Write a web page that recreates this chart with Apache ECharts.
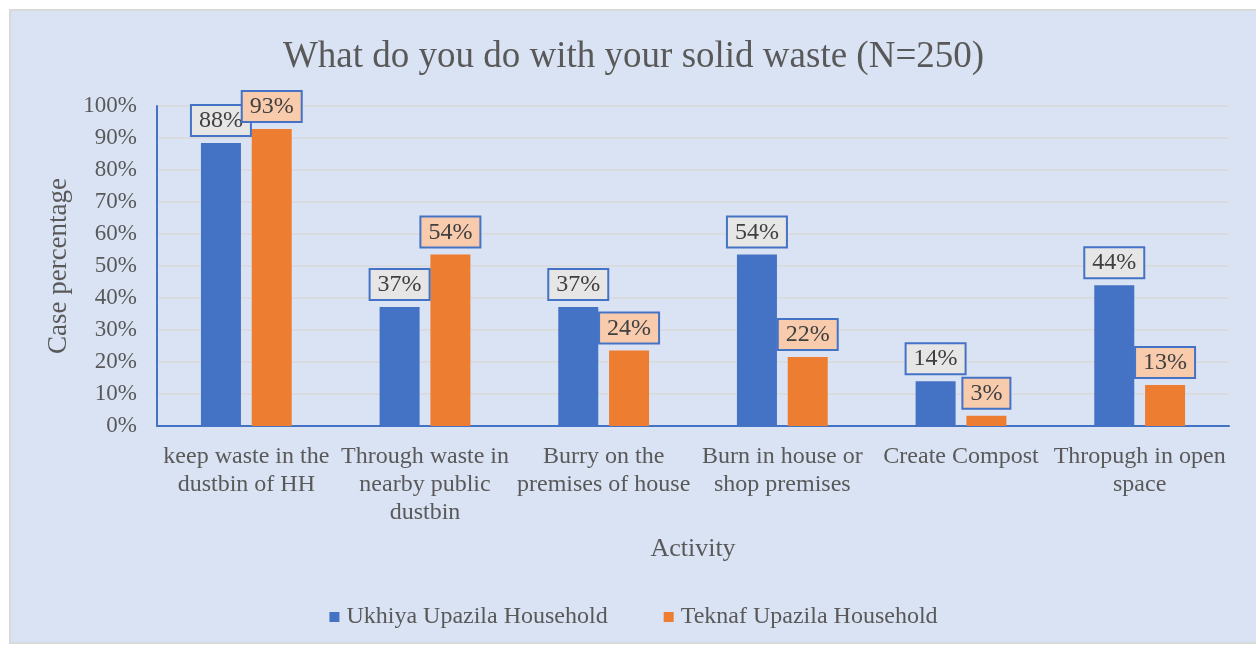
<!DOCTYPE html>
<html>
<head>
<meta charset="utf-8">
<script src="https://cdn.jsdelivr.net/npm/echarts@6/dist/echarts.min.js"></script>
<style>
html,body{margin:0;padding:0;background:#ffffff;width:1256px;height:646px;overflow:hidden;}
#wrap{position:absolute;left:9px;top:9px;width:1245px;height:631px;border:2px solid #D9D9D9;border-right:none;background:#DAE3F3;}
#chart{width:1245px;height:631px;}
</style>
</head>
<body>
<div id="wrap"><div id="chart"></div></div>
<script>
const categories = [
  "keep waste in the\ndustbin of HH",
  "Through waste in\nnearby public\ndustbin",
  "Burry on the\npremises of house",
  "Burn in house or\nshop premises",
  "Create Compost",
  "Thropugh in open\nspace"
];
const ukhiya = [88.4, 37.2, 37.2, 53.6, 14.0, 44.0];
const teknaf = [92.8, 53.6, 23.6, 21.6, 3.2, 12.8];
const seriesNames = ["Ukhiya Upazila Household", "Teknaf Upazila Household"];
const yTicks = [0, 10, 20, 30, 40, 50, 60, 70, 80, 90, 100];

const FONT = '"Liberation Serif", "Times New Roman", serif';
const chart = echarts.init(document.getElementById('chart'));

function labelFor(bg) {
  return {
    show: true,
    position: 'top',
    distance: 8,
    formatter: p => Math.round(p.value) + '%',
    fontFamily: FONT,
    fontSize: 24,
    color: '#404040',
    backgroundColor: bg,
    borderColor: '#4472C4',
    borderWidth: 2,
    padding: [3, 7, 2, 7],
    lineHeight: 24
  };
}

chart.setOption({
  backgroundColor: '#DAE3F3',
  textStyle: { fontFamily: FONT },
  title: {
    text: 'What do you do with your solid waste (N=250)',
    left: 'center',
    top: 23,
    textStyle: { fontFamily: FONT, fontSize: 37, fontWeight: 'normal', color: '#595959' }
  },
  legend: {
    data: seriesNames,
    left: 'center',
    top: 589,
    itemWidth: 10,
    itemHeight: 10,
    itemGap: 56,
    icon: 'rect',
    textStyle: { fontFamily: FONT, fontSize: 24, color: '#595959', padding: [0, 0, 0, 2] }
  },
  grid: { left: 146, top: 95, width: 1072, height: 320, containLabel: false },
  xAxis: {
    type: 'category',
    data: categories,
    name: 'Activity',
    nameLocation: 'middle',
    nameGap: 110,
    nameTextStyle: { fontFamily: FONT, fontSize: 26, color: '#595959', verticalAlign: 'top' },
    axisLine: { lineStyle: { color: '#4472C4', width: 2 } },
    axisTick: { show: false },
    axisLabel: { interval: 0, margin: 17, fontFamily: FONT, fontSize: 24, color: '#595959', lineHeight: 28 }
  },
  yAxis: {
    type: 'value',
    min: 0,
    max: 100,
    interval: 10,
    name: 'Case percentage',
    nameLocation: 'middle',
    nameGap: 82,
    nameTextStyle: { fontFamily: FONT, fontSize: 27, color: '#595959' },
    axisLine: { show: true, lineStyle: { color: '#4472C4', width: 2 } },
    axisTick: { show: false },
    splitLine: { lineStyle: { color: '#D9D9D9', width: 1.5 } },
    axisLabel: {
      margin: 20,
      fontFamily: FONT,
      fontSize: 23,
      color: '#595959',
      customValues: yTicks,
      formatter: v => v + '%'
    }
  },
  series: [
    {
      name: seriesNames[0],
      type: 'bar',
      data: ukhiya,
      barWidth: 40,
      barGap: '27%',
      itemStyle: { color: '#4472C4' },
      label: labelFor('#E7E6E6')
    },
    {
      name: seriesNames[1],
      type: 'bar',
      data: teknaf,
      barWidth: 40,
      itemStyle: { color: '#ED7D31' },
      label: labelFor('#F8CBAD')
    }
  ]
});
</script>
</body>
</html>
